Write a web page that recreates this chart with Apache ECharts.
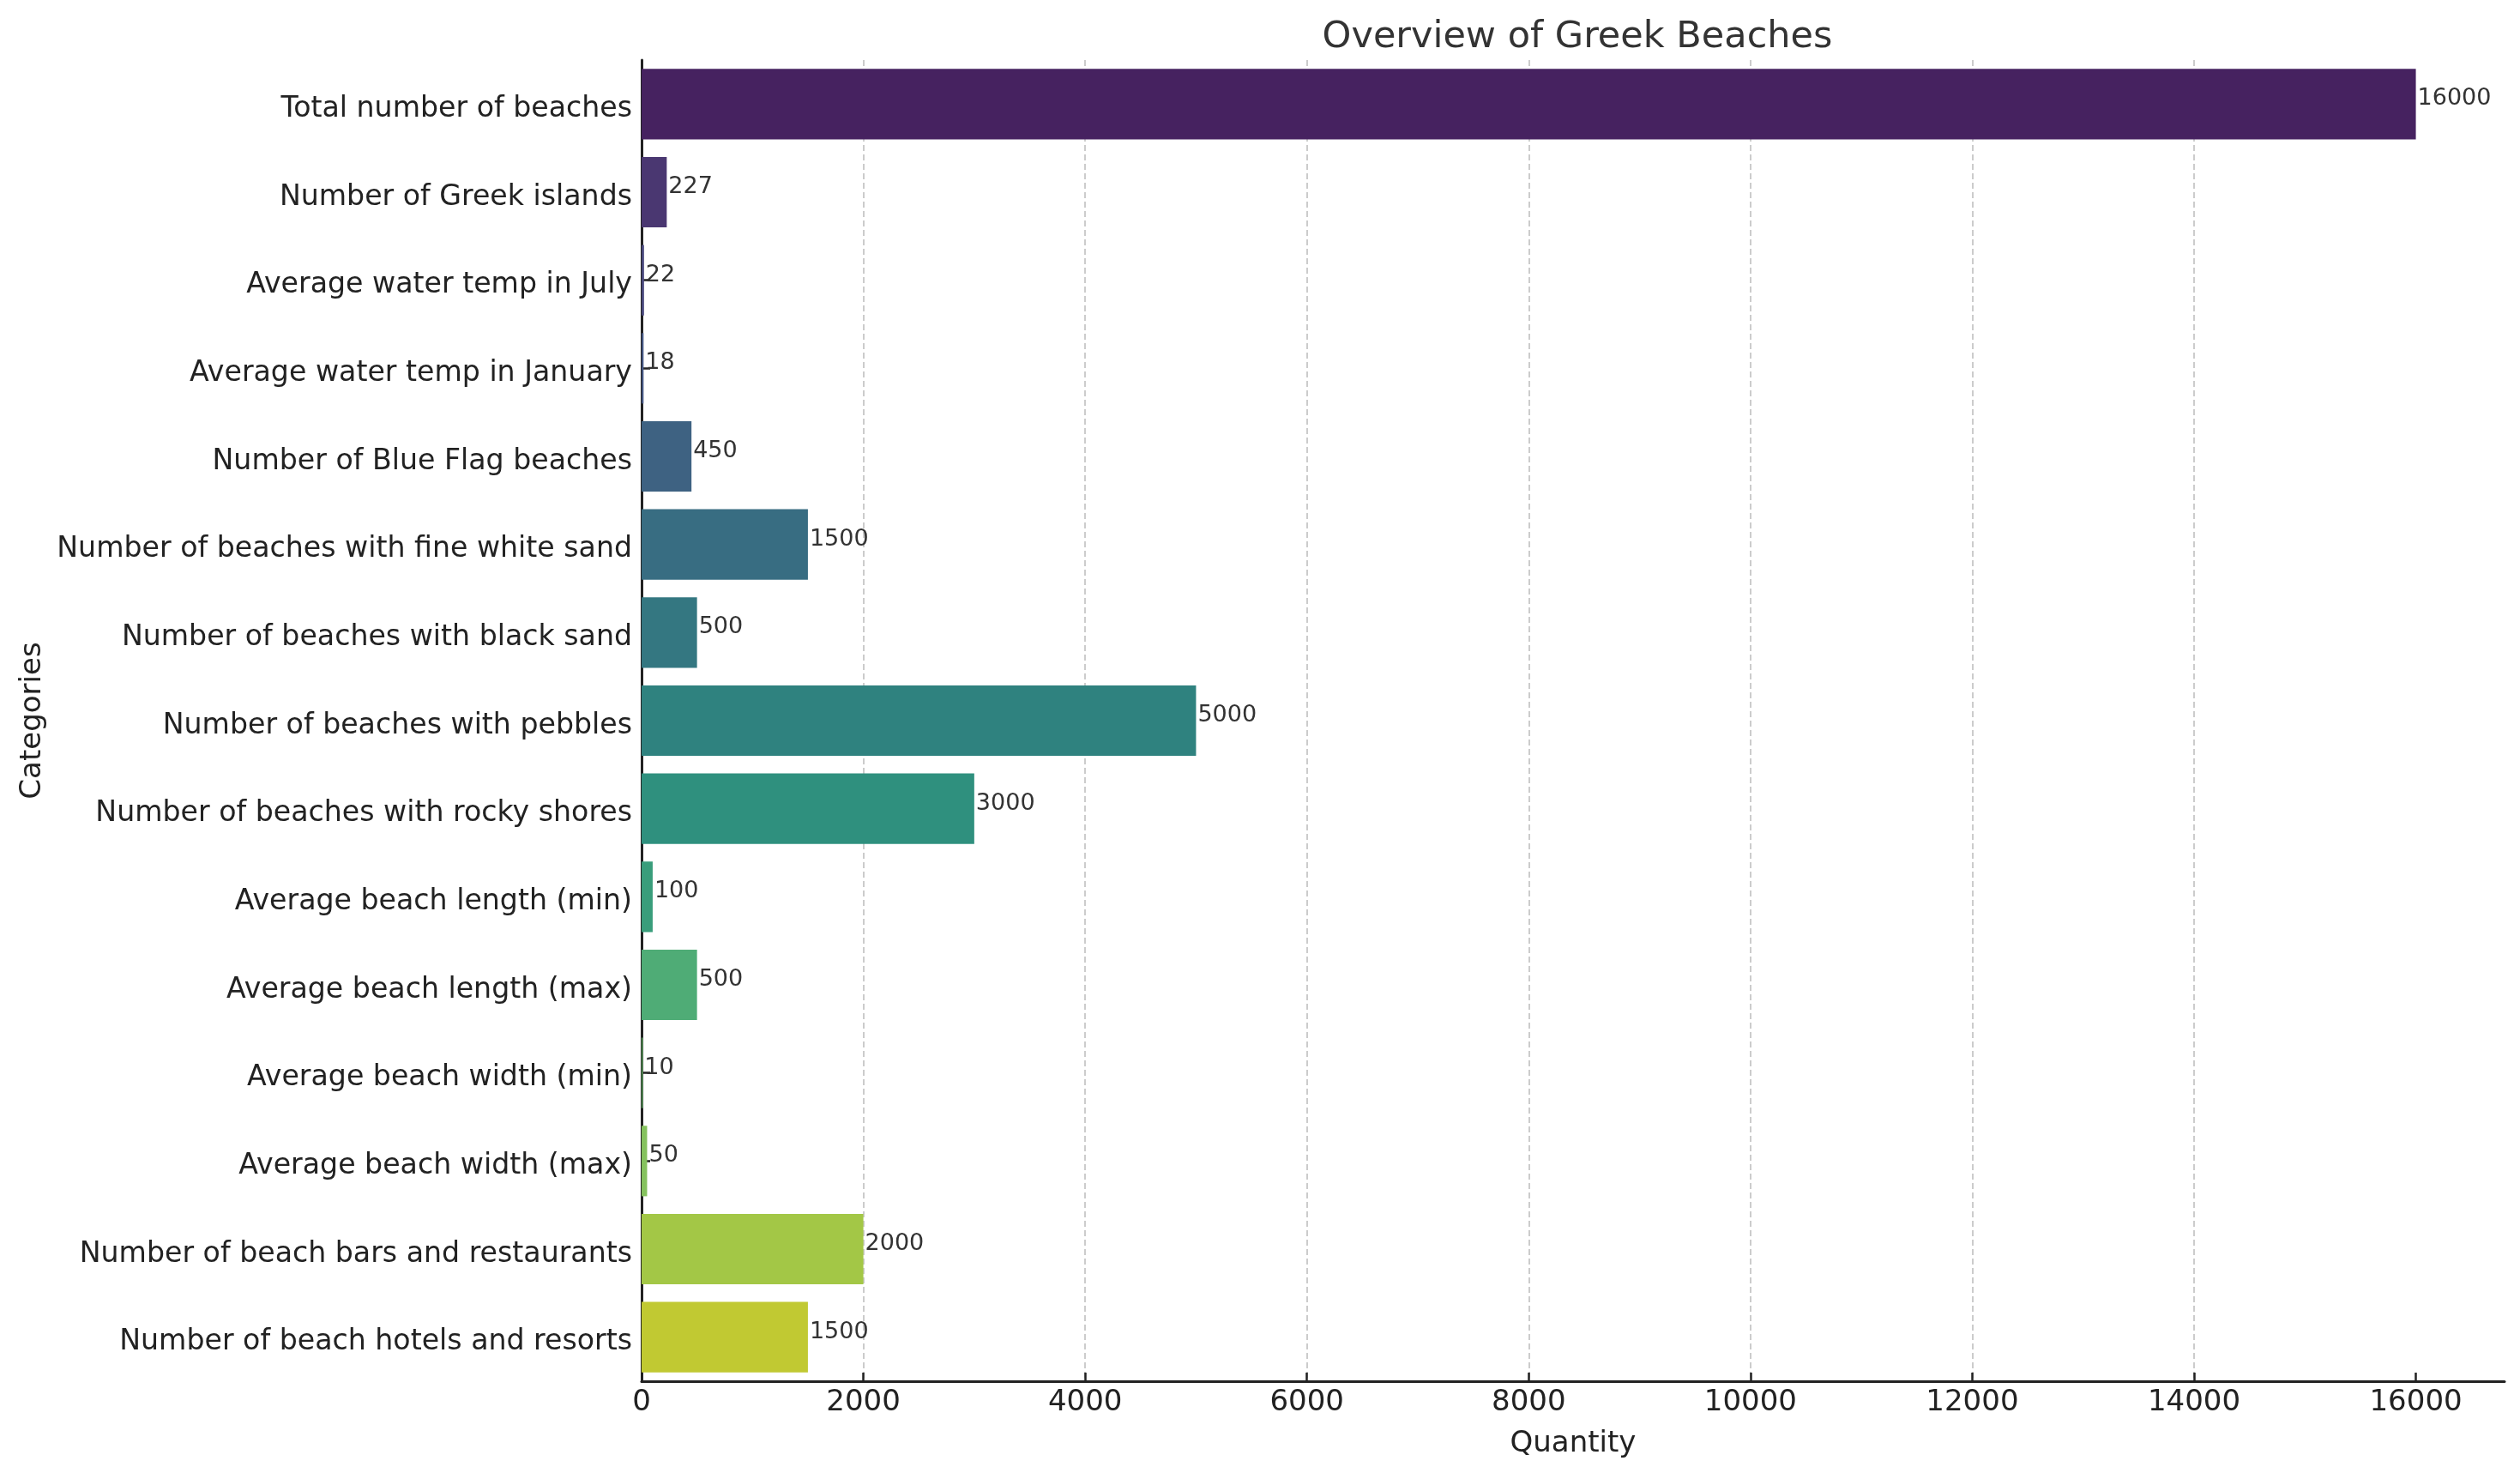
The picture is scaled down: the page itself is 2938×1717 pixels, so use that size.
<!DOCTYPE html>
<html>
<head>
<meta charset="utf-8">
<script src="https://cdn.jsdelivr.net/npm/echarts@6/dist/echarts.min.js"></script>
<style>
html,body{margin:0;padding:0;background:#fff;}
#chart{width:2938px;height:1717px;}
</style>
</head>
<body>
<div id="chart"></div>
<script>
const categories = [
  "Total number of beaches",
  "Number of Greek islands",
  "Average water temp in July",
  "Average water temp in January",
  "Number of Blue Flag beaches",
  "Number of beaches with fine white sand",
  "Number of beaches with black sand",
  "Number of beaches with pebbles",
  "Number of beaches with rocky shores",
  "Average beach length (min)",
  "Average beach length (max)",
  "Average beach width (min)",
  "Average beach width (max)",
  "Number of beach bars and restaurants",
  "Number of beach hotels and resorts"
];
const values = [16000, 227, 22, 18, 450, 1500, 500, 5000, 3000, 100, 500, 10, 50, 2000, 1500];
const xTicks = [0, 2000, 4000, 6000, 8000, 10000, 12000, 14000, 16000];

// viridis samples (style), desaturated like seaborn (0.75)
const baseColors = ["#48186A","#472D7B","#424086","#3B528B","#33638D","#2C728E","#27808E","#21908C","#1FA088","#28AE80","#3FBC73","#5EC962","#81D34D","#ADDC30","#D8E219"];
function desat(hex, p){
  let r=parseInt(hex.slice(1,3),16)/255,g=parseInt(hex.slice(3,5),16)/255,b=parseInt(hex.slice(5,7),16)/255;
  const mx=Math.max(r,g,b), mn=Math.min(r,g,b), l=(mx+mn)/2;
  if(mx===mn) return hex;
  const s = l<=0.5 ? (mx-mn)/(mx+mn) : (mx-mn)/(2-mx-mn);
  const s2 = s*p;
  const c = l<=0.5 ? s2*(2*l) : s2*(2-2*l);
  const nmx = l + c/2, nmn = l - c/2;
  const f = v => nmn + (v-mn)/(mx-mn)*(nmx-nmn);
  const h = v => Math.round(Math.max(0,Math.min(1,f(v)))*255).toString(16).padStart(2,'0');
  return '#'+h(r)+h(g)+h(b);
}
const colors = baseColors.map(c => desat(c, 0.75));

const FONT = "DejaVu Sans";
const chart = echarts.init(document.getElementById('chart'), null, {renderer:'canvas'});
chart.setOption({
  backgroundColor: '#ffffff',
  animation: false,
  title: {
    text: 'Overview of Greek Beaches',
    left: 1834, top: 17, textAlign: 'center',
    textStyle: {fontFamily: FONT, fontSize: 43, fontWeight: 'normal', color: '#333333'}
  },
  grid: {left: 748, right: 18, top: 70, bottom: 107, containLabel: false},
  xAxis: {
    type: 'value', min: 0, max: 16800, interval: 2000,
    name: 'Quantity', nameLocation: 'middle', nameGap: 56,
    nameTextStyle: {fontFamily: FONT, fontSize: 34, color: '#222'},
    axisLine: {show: true, lineStyle: {color: '#222', width: 3}},
    axisTick: {show: true, inside: true, length: 10, lineStyle: {color: '#222', width: 2.5}, customValues: xTicks},
    axisLabel: {fontFamily: FONT, fontSize: 34, color: '#222', margin: 8, customValues: xTicks,
      formatter: v => String(v)},
    splitLine: {show: true, showMaxLine: false, showMinLine: false, lineStyle: {color: '#cccccc', width: 2, type: [7, 4]}}
  },
  yAxis: {
    type: 'category', data: categories, inverse: true,
    name: 'Categories', nameLocation: 'middle', nameGap: 683, nameRotate: 90,
    nameTextStyle: {fontFamily: FONT, fontSize: 34, color: '#222'},
    axisLine: {show: true, lineStyle: {color: '#222', width: 3}},
    axisTick: {show: true, inside: true, alignWithLabel: true, length: 10, lineStyle: {color: '#222', width: 2.5}},
    axisLabel: {fontFamily: FONT, fontSize: 33.2, color: '#222', margin: 11, verticalAlign: 'top', lineHeight: 12},
    splitLine: {show: false}
  },
  series: [{
    type: 'bar',
    data: values.map((v, i) => ({value: v, itemStyle: {color: colors[i]}})),
    barCategoryGap: '20%',
    label: {
      show: true, position: 'right', distance: 2, offset: [0, -6],
      fontFamily: FONT, fontSize: 27, color: '#333333'
    }
  }]
});
</script>
</body>
</html>
